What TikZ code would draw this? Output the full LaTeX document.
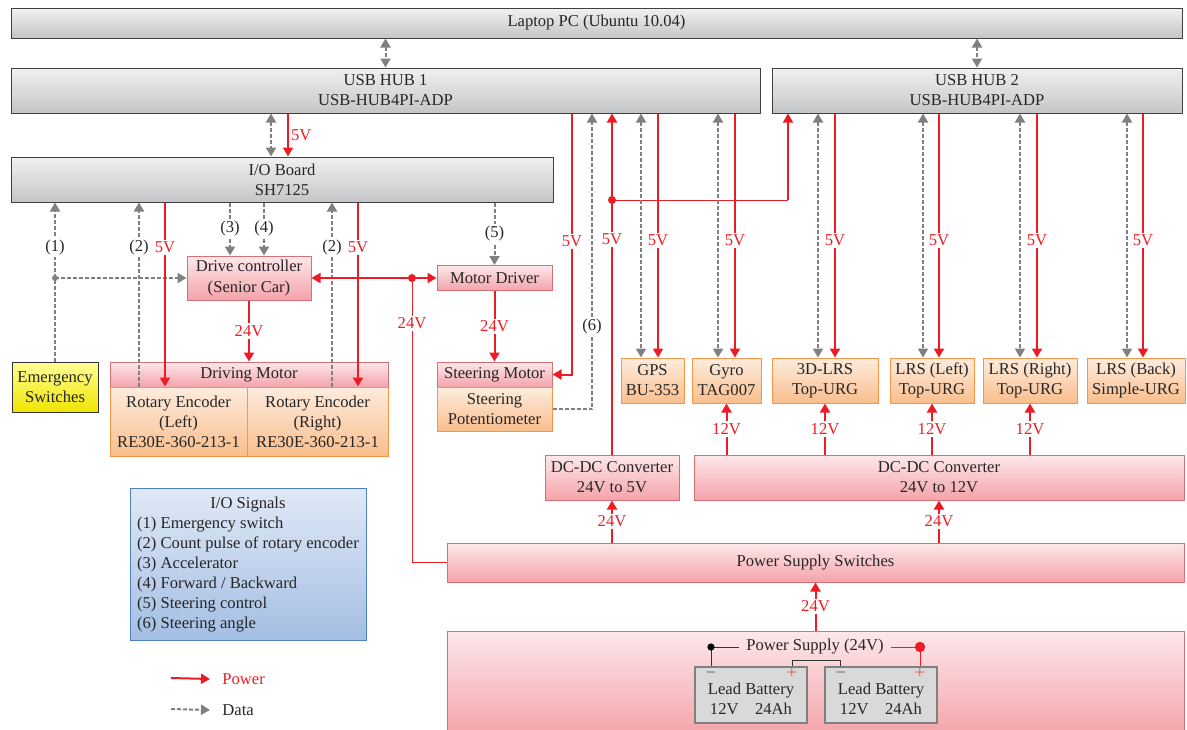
\documentclass[tikz,border=0pt]{standalone}
\usepackage{fontspec}
\setmainfont{Liberation Serif}
\usetikzlibrary{shapes,arrows.meta}
\definecolor{pwr}{RGB}{237,28,36}
\definecolor{dat}{RGB}{128,128,128}
\definecolor{gytop}{RGB}{241,241,242}
\definecolor{gybot}{RGB}{196,197,199}
\definecolor{pktop}{RGB}{253,232,234}
\definecolor{pkbot}{RGB}{244,163,170}
\definecolor{pkline}{RGB}{212,112,120}
\definecolor{ortop}{RGB}{253,236,222}
\definecolor{orbot}{RGB}{250,190,140}
\definecolor{orline}{RGB}{247,150,70}
\definecolor{yltop}{RGB}{255,255,150}
\definecolor{ylbot}{RGB}{240,228,0}
\definecolor{bltop}{RGB}{224,233,246}
\definecolor{blbot}{RGB}{164,190,227}
\definecolor{blline}{RGB}{79,129,189}
\tikzstyle{block} = [rectangle, draw, align=center, inner sep=0pt, line width=0.5pt]
\tikzstyle{pcblock} = [block, draw=black!75, top color=gytop, bottom color=gybot]
\tikzstyle{pinkblock} = [block, draw=pkline, top color=pktop, bottom color=pkbot]
\tikzstyle{orgblock} = [block, draw=orline, top color=ortop, bottom color=orbot]
\tikzstyle{yelblock} = [block, draw=black!80, top color=yltop, bottom color=ylbot]
\tikzstyle{sigblock} = [block, draw=blline, top color=bltop, bottom color=blbot]
\tikzstyle{batblock} = [block, draw=black!50, line width=0.8pt, fill=black!15]
\tikzstyle{sign} = [inner sep=0pt, font=\fontsize{6}{6}\selectfont]
\tikzstyle{pline} = [draw=pwr, line width=1pt]
\tikzstyle{dline} = [draw=dat, line width=1pt, dash pattern=on 2pt off 1pt]
\tikzstyle{lbl} = [fill=white, inner sep=1pt]
\tikzstyle{plbl} = [lbl, text=pwr]

\begin{document}
\begin{tikzpicture}[x=0.5pt, y=-0.5pt, >={Triangle[length=4.5pt,width=5pt]},
    font=\fontsize{8.3}{10}\selectfont, text=black!85]
    \path[use as bounding box, fill=white] (0,0) rectangle (1187,729);

    % PC, hubs and I/O board
    \node [pcblock, minimum width=585.5pt, minimum height=15pt] (pc) at (596.5,23) {Laptop PC (Ubuntu 10.04)};
    \node [pcblock, minimum width=374.5pt, minimum height=22.5pt] (hub1) at (385.5,90.5) {USB HUB 1\\USB-HUB4PI-ADP};
    \node [pcblock, minimum width=205pt, minimum height=22.5pt] (hub2) at (977,90.5) {USB HUB 2\\USB-HUB4PI-ADP};
    \node [pcblock, minimum width=271pt, minimum height=22.5pt] (io) at (282,179.5) {I/O Board\\SH7125};

    % Place drive and steering blocks
    \node [pinkblock, minimum width=62pt, minimum height=22pt] (drv) at (249,278) {Drive controller\\(Senior Car)};
    \node [pinkblock, minimum width=57.5pt, minimum height=12.5pt] (md) at (494.5,278) {Motor Driver};
    \node [pinkblock, minimum width=139pt, minimum height=12.5pt] (dm) at (249,374.5) {Driving Motor};
    \node [orgblock, minimum width=68.5pt, minimum height=34.5pt] (encl) at (178.5,421.5) {Rotary Encoder\\(Left)\\RE30E-360-213-1};
    \node [orgblock, minimum width=70.5pt, minimum height=34.5pt] (encr) at (317.5,421.5) {Rotary Encoder\\(Right)\\RE30E-360-213-1};
    \node [yelblock, minimum width=43pt, minimum height=25pt] (emg) at (55,387) {Emergency\\Switches};
    \node [pinkblock, minimum width=57.5pt, minimum height=12.5pt] (sm) at (494.5,374.5) {Steering Motor};
    \node [orgblock, minimum width=57.5pt, minimum height=22pt] (pot) at (494.5,409) {Steering\\Potentiometer};

    % Place sensors
    \node [orgblock, minimum width=31.5pt, minimum height=22.5pt] (gps) at (652.5,380.5) {GPS\\BU-353};
    \node [orgblock, minimum width=34.5pt, minimum height=22.5pt] (gyro) at (726.5,380.5) {Gyro\\TAG007};
    \node [orgblock, minimum width=53pt, minimum height=22.5pt] (lrsa) at (825,380.5) {3D-LRS\\Top-URG};
    \node [orgblock, minimum width=42pt, minimum height=22.5pt] (lrsl) at (932,380.5) {LRS (Left)\\Top-URG};
    \node [orgblock, minimum width=47pt, minimum height=22.5pt] (lrsr) at (1030,380.5) {LRS (Right)\\Top-URG};
    \node [orgblock, minimum width=49pt, minimum height=22.5pt] (lrsb) at (1136,380.5) {LRS (Back)\\Simple-URG};

    % Place power blocks
    \node [pinkblock, minimum width=67pt, minimum height=22.5pt] (dc5) at (612,477.5) {DC-DC Converter\\24V to 5V};
    \node [pinkblock, minimum width=245pt, minimum height=22.5pt] (dc12) at (939,477.5) {DC-DC Converter\\24V to 12V};
    \node [pinkblock, minimum width=368.5pt, minimum height=19.5pt] (pss) at (815.5,562.5) {Power Supply Switches};
    \node [pinkblock, minimum width=368.5pt, minimum height=52pt] (ps) at (815.5,683) {};
    \node (pstxt) at (815,647) {Power Supply (24V)};
    \node [batblock, minimum width=56pt, minimum height=28pt] (bat1) at (751,695) {\rule{0pt}{10pt}Lead Battery\\12V\quad 24Ah};
    \node [batblock, minimum width=56pt, minimum height=28pt] (bat2) at (881,695) {\rule{0pt}{10pt}Lead Battery\\12V\quad 24Ah};
    \node [sign] (bm1) at (711,672) {$-$};
    \node [sign, text=pwr] (bp1) at (792,672) {$+$};
    \node [sign] (bm2) at (841,672) {$-$};
    \node [sign, text=pwr] (bp2) at (920,672) {$+$};

    % I/O signal list and legend
    \node [sigblock, minimum width=118pt, minimum height=76pt] (sig) at (248,564) {%
      \begin{tabular}{@{}l@{}}\multicolumn{1}{@{}c@{}}{I/O Signals}\\
      (1) Emergency switch\\(2) Count pulse of rotary encoder\\(3) Accelerator\\
      (4) Forward / Backward\\(5) Steering control\\(6) Steering angle\end{tabular}};
    \node [anchor=west, inner sep=0pt, text=pwr] (lpw) at (222,679) {Power};
    \node [anchor=west, inner sep=0pt] (ldt) at (222,710) {Data};
    \coordinate (lp) at (171,678);
    \coordinate (ld) at (171,709);

    % columns of the lines
    \foreach \n/\x in {xa/271, xb/288, xc/139, xd/165, xe/230, xf/264, xg/332, xh/358,
                       xj/572, xk/592, xm/788}
        \coordinate (\n) at (\x,0);

    % Draw edges
    \draw [dline, <->] (pc.south -| hub1) -- (hub1.north);
    \draw [dline, <->] (pc.south -| hub2) -- (hub2.north);
    \draw [dline, <->] (xa |- hub1.south) -- (xa |- io.north);
    \draw [pline, ->] (xb |- hub1.south) -- node[right, text=pwr, inner sep=1pt] {5V} (xb |- io.north);

    \draw [dline, ->] (emg.north) -- node[lbl, pos=.72] {(1)} (emg.north |- io.south);
    \coordinate (jd) at (emg.north |- drv.west);
    \draw [dline, ->] (jd) -- (drv.west);
    \fill [dat] (jd) circle (1.5pt);
    \draw [dline, ->] (xc |- encl.north) -- node[lbl, pos=.755] {(2)} (xc |- io.south);
    \draw [pline, ->] (xd |- io.south) -- node[plbl, pos=.245] {5V} (xd |- encl.north);
    \draw [dline, ->] (xe |- io.south) -- node[lbl] {(3)} (xe |- drv.north);
    \draw [dline, ->] (xf |- io.south) -- node[lbl] {(4)} (xf |- drv.north);
    \draw [dline, ->] (xg |- encr.north) -- node[lbl, pos=.755] {(2)} (xg |- io.south);
    \draw [pline, ->] (xh |- io.south) -- node[plbl, pos=.245] {5V} (xh |- encr.north);
    \draw [dline, ->] (md.north |- io.south) -- node[lbl] {(5)} (md.north);
    \draw [pline, ->] (drv.south) -- node[plbl] {24V} (dm.north);
    \draw [pline, ->] (md.south) -- node[plbl] {24V} (sm.north);

    % 24V to the drive controller and motor driver
    \coordinate (jp) at (412,278);
    \draw [pline, line width=0.5pt] (pss.west) -| node[plbl, pos=.92] {24V} (jp);
    \draw [pline, ->] (jp) -- (drv.east);
    \draw [pline, ->] (jp) -- (md.west);
    \fill [pwr] (jp) circle (2pt);

    % steering
    \draw [pline, ->] (xj |- hub1.south) -- node[plbl, pos=.49] {5V} (xj |- sm.east) -- (sm.east);
    \draw [dline, ->] (pot.east) -- (xk |- pot.east) -- node[lbl, pos=.28] {(6)} (xk |- hub1.south);

    % 5V to the hubs
    \draw [pline, ->] (dc5.north) -- node[plbl, pos=.63] {5V} (dc5.north |- hub1.south);
    \coordinate (jq) at (612,200);
    \draw [pline, line width=0.5pt] (jq) -- (xm |- jq);
    \draw [pline, line width=0.75pt, ->] (xm |- jq) -- (xm |- hub2.south);
    \fill [pwr] (jq) circle (2pt);

    % sensors: data and 5V
    \foreach \s/\h/\d/\p in {gps/hub1/641/658, gyro/hub1/718/735, lrsa/hub2/818/835,
                             lrsl/hub2/923/939, lrsr/hub2/1020/1037, lrsb/hub2/1127/1143} {
        \coordinate (cd) at (\d,0);
        \coordinate (cp) at (\p,0);
        \draw [dline, <->] (cd |- \h.south) -- (cd |- \s.north);
        \draw [pline, ->] (cp |- \h.south) -- node[plbl, pos=.52] {5V} (cp |- \s.north);
    }
    \foreach \s in {gyro, lrsa, lrsl, lrsr}
        \draw [pline, ->] (dc12.north -| \s) -- node[plbl] {12V} (\s.south);

    % 24V supply
    \draw [pline, ->] (pss.north -| dc5.south) -- node[plbl] {24V} (dc5.south);
    \draw [pline, ->] (pss.north -| dc12.south) -- node[plbl] {24V} (dc12.south);
    \draw [pline, ->] (ps.north -| pss.south) -- node[plbl] {24V} (pss.south);

    % battery wiring
    \coordinate (bk) at (711,647);
    \coordinate (rd) at (920,647);
    \coordinate (bp) at (792,660);
    \coordinate (bn) at (840,660);
    \draw [black!80, line width=0.5pt] (bat1.north -| bk) -- (bk) -- (pstxt.west);
    \draw [black!80, line width=0.5pt] (bat1.north -| bp) -- (bp) -- (bn) -- (bn |- bat2.north);
    \draw [pwr, line width=0.5pt] (pstxt.east) -- (rd) -- (rd |- bat2.north);
    \fill [black] (bk) circle (1.8pt);
    \fill [pwr] (rd) circle (2.6pt);

    % legend
    \draw [pline, ->] (lp) -- ([xshift=-6pt]lpw.west);
    \draw [dline, ->] (ld) -- ([xshift=-6pt]ldt.west);
\end{tikzpicture}
\end{document}
